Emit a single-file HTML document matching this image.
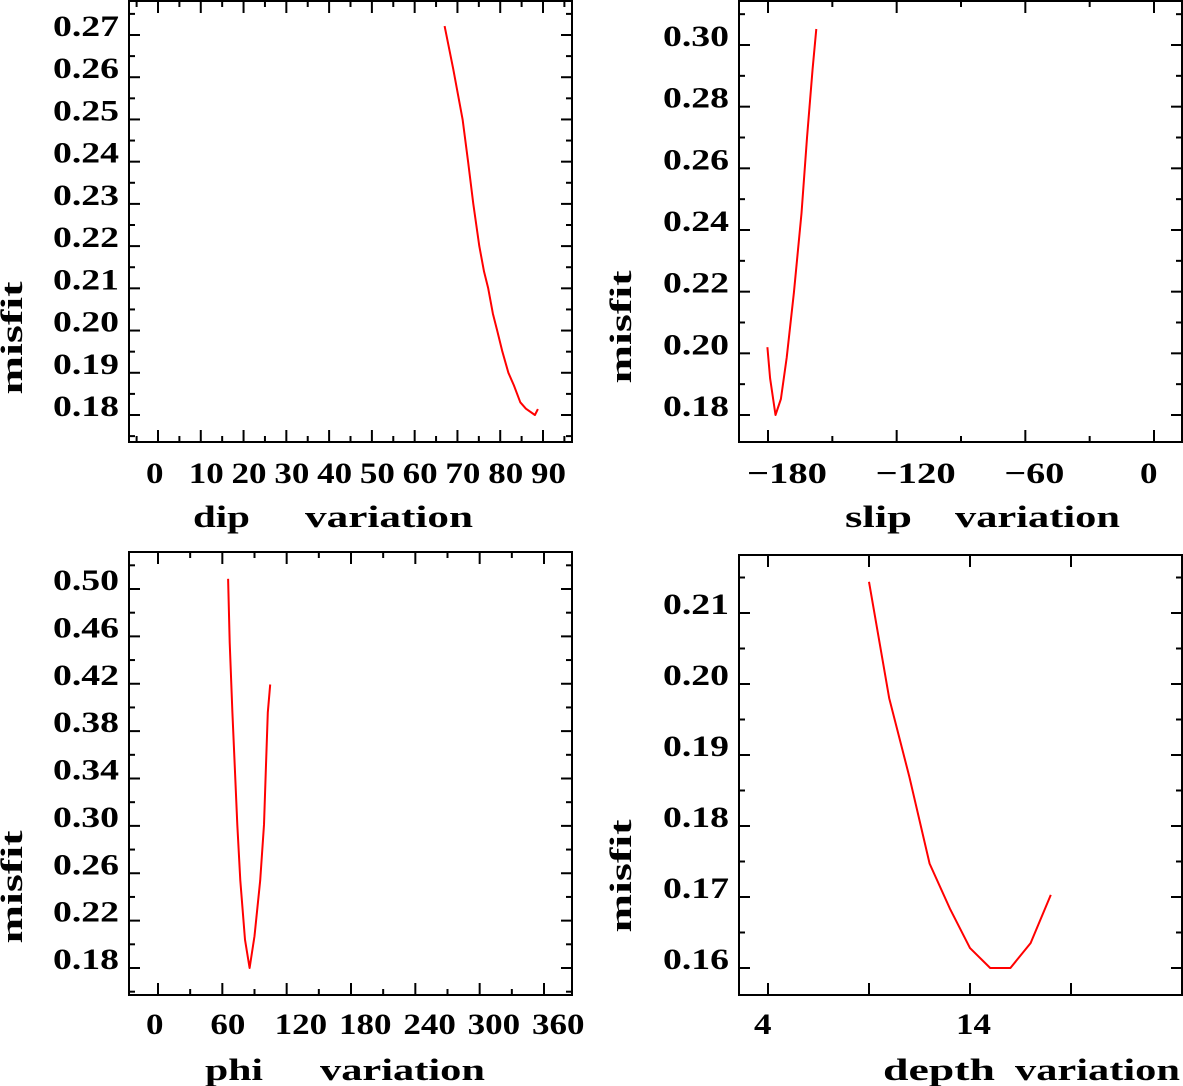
<!DOCTYPE html>
<html><head><meta charset="utf-8"><style>
html,body{margin:0;padding:0;background:#fff;}
svg{display:block;}
text{font-family:"Liberation Serif",serif;fill:#000;}
</style></head><body>
<svg id="chart" width="1183" height="1086" viewBox="0 0 1183 1086" xmlns="http://www.w3.org/2000/svg"></svg>
<script>
// ---- data ----
const dipX = [67, 69, 71.2, 72.5, 73.7, 75.1, 76.2, 77.2, 78.3, 79.3, 80.5, 81.9, 83.2, 84.7, 86, 88.1, 88.8];
const dipY = [0.2721, 0.2620, 0.2500, 0.2400, 0.2300, 0.2200, 0.2140, 0.2100, 0.2040, 0.2000, 0.1950, 0.1900, 0.1870, 0.1830, 0.1815, 0.1800, 0.1814];
const dipYTicks = [0.18, 0.19, 0.20, 0.21, 0.22, 0.23, 0.24, 0.25, 0.26, 0.27];
const dipYLabels = ["0.18","0.19","0.20","0.21","0.22","0.23","0.24","0.25","0.26","0.27"];
const dipXTicks = [0,10,20,30,40,50,60,70,80,90];
const dipXLabels = ["0","10","20","30","40","50","60","70","80","90"];

const slipX = [-180.3, -179, -176.5, -174, -171.3, -167.9, -164.4, -161.8, -159.2, -157.5];
const slipY = [0.202, 0.1919, 0.180, 0.1852, 0.1986, 0.2197, 0.2454, 0.2699, 0.2922, 0.3052];
const slipYTicks = [0.18, 0.20, 0.22, 0.24, 0.26, 0.28, 0.30];
const slipYLabels = ["0.18","0.20","0.22","0.24","0.26","0.28","0.30"];
const slipXTicks = [-180, -120, -60, 0];
const slipXLabels = ["\u2212180","\u2212120","\u221260","0"];

const phiX = [65.4, 66.9, 69.4, 71.5, 74, 76.8, 81.1, 85.4, 90, 95.3, 98.9, 100.7, 102.4, 104.6];
const phiY = [0.5086, 0.4548, 0.3957, 0.3515, 0.301, 0.254, 0.2039, 0.180, 0.2069, 0.254, 0.301, 0.3515, 0.3957, 0.4194];
const phiYTicks = [0.18, 0.22, 0.26, 0.30, 0.34, 0.38, 0.42, 0.46, 0.50];
const phiYLabels = ["0.18","0.22","0.26","0.30","0.34","0.38","0.42","0.46","0.50"];
const phiXTicks = [0,60,120,180,240,300,360];
const phiXLabels = ["0","60","120","180","240","300","360"];

const depthX = [9, 10, 11, 12, 13, 14, 15, 16, 17, 18];
const depthY = [0.2144, 0.198, 0.1869, 0.1747, 0.1684, 0.1628, 0.160, 0.160, 0.1635, 0.1703];
const depthYTicks = [0.16, 0.17, 0.18, 0.19, 0.20, 0.21];
const depthYLabels = ["0.16","0.17","0.18","0.19","0.20","0.21"];
const depthXTicks = [4, 14];
const depthXLabels = ["4","14"];
const depthXMajor = [4, 9, 14, 19];

const NS = "http://www.w3.org/2000/svg";
const svg = document.getElementById('chart');
function mk(tag, attrs, parent){ const e=document.createElementNS(NS,tag); for(const k in attrs) e.setAttribute(k,attrs[k]); (parent||svg).appendChild(e); return e; }

function panel(p){
  const g = mk('g',{});
  
  
  const sx = v => p.xa + (v - p.xva)*(p.xb - p.xa)/(p.xvb - p.xva);
  const sy = v => p.ya + (v - p.yva)*(p.yb - p.ya)/(p.yvb - p.yva);
  const frame = mk('rect',{x:p.L,y:p.T,width:p.R-p.L,height:p.B-p.T,fill:'none',stroke:'#000','stroke-width':2},g);
  
  
  const dy = p.yTicks[1]-p.yTicks[0];
  for(let i=0;i<p.yTicks.length;i++){
    const v=p.yTicks[i], y=sy(v);
    mk('line',{x1:p.L,y1:y,x2:p.L+11,y2:y,stroke:'#000','stroke-width':2},g);
    mk('line',{x1:p.R,y1:y,x2:p.R-11,y2:y,stroke:'#000','stroke-width':2},g);
    const t = mk('text',{x:p.L-10,y:y+1,'text-anchor':'end','font-size':30,'font-weight':'bold',textLength:p.yLabels[i].length*16.5,lengthAdjust:'spacingAndGlyphs'},g);
    t.textContent=p.yLabels[i];
    
    
  }
  for(let v=p.yTicks[0]-dy/2; v<p.yTicks[p.yTicks.length-1]+dy; v+=dy){
    const y=sy(v); if(y<p.T+2||y>p.B-2) continue;
    mk('line',{x1:p.L,y1:y,x2:p.L+6,y2:y,stroke:'#000','stroke-width':2},g);
    mk('line',{x1:p.R,y1:y,x2:p.R-6,y2:y,stroke:'#000','stroke-width':2},g);
  }
  const major = p.xMajor || p.xTicks;
  const dx = major[1]-major[0];
  for(const v of major){
    const x=sx(v);
    mk('line',{x1:x,y1:p.B,x2:x,y2:p.B-12,stroke:'#000','stroke-width':2},g);
    mk('line',{x1:x,y1:p.T,x2:x,y2:p.T+12,stroke:'#000','stroke-width':2},g);
  }
  if(p.minor){
    for(let v=major[0]-dx/2; v<major[major.length-1]+dx; v+=dx){
      const x=sx(v); if(x<p.L+3||x>p.R-3) continue;
      mk('line',{x1:x,y1:p.B,x2:x,y2:p.B-6,stroke:'#000','stroke-width':2},g);
      mk('line',{x1:x,y1:p.T,x2:x,y2:p.T+6,stroke:'#000','stroke-width':2},g);
    }
  }
  for(let i=0;i<p.xTicks.length;i++){
    const s=p.xLabels[i];
    const neg = s[0]=='\u2212';
    const off = neg ? -21 : (p.xOff!==undefined ? p.xOff : -12);
    const t = mk('text',{x:sx(p.xTicks[i])+off,y:p.xlabY,'text-anchor':'start','font-size':30,'font-weight':'bold',textLength:neg ? (s.length*20) : s.length*17.5,lengthAdjust:'spacingAndGlyphs'},g);
    t.textContent=s;
    
    
  }
  for(const w of p.titles){
    const t = mk('text',{x:w[1],y:p.titleY,'font-size':31,'font-weight':'bold',textLength:w[2]-w[1],lengthAdjust:'spacingAndGlyphs'},g);
    t.textContent=w[0];
    
    
  }
  const yt = mk('text',{x:0,y:0,'font-size':31,'font-weight':'bold','text-anchor':'middle',textLength:113,lengthAdjust:'spacingAndGlyphs',transform:`translate(${p.misX},${p.misY}) rotate(-90)`},g);
  yt.textContent='misfit';
  
  
  const pts = p.X.map((v,i)=>sx(v).toFixed(1)+','+sy(p.Y[i]).toFixed(1)).join(' ');
  const line = mk('polyline',{points:pts,fill:'none',stroke:'#ff0000','stroke-width':2,'stroke-linejoin':'round'},g);
  
  
}

panel({name:'dip-panel',L:129,R:572,T:1,B:442,xa:158,xva:0,xb:543,xvb:90,ya:35,yva:0.27,yb:415,yvb:0.18,
  yTicks:dipYTicks,yLabels:dipYLabels,xTicks:dipXTicks,xLabels:dipXLabels,minor:true,xlabY:483,titleY:527,
  titles:[['dip',193,250],['variation',305,473]],misX:22,misY:338,X:dipX,Y:dipY});
panel({name:'slip-panel',L:739,R:1182,T:1,B:442,xa:768,xva:-180,xb:1154,xvb:0,ya:45,yva:0.30,yb:415,yvb:0.18,
  yTicks:slipYTicks,yLabels:slipYLabels,xTicks:slipXTicks,xLabels:slipXLabels,minor:true,xOff:-14,xlabY:483,titleY:527,
  titles:[['slip',845,912],['variation',955,1120]],misX:631,misY:327,X:slipX,Y:slipY});
panel({name:'phi-panel',L:129,R:572,T:552,B:995,xa:158,xva:0,xb:544,xvb:360,ya:589,yva:0.50,yb:968,yvb:0.18,
  yTicks:phiYTicks,yLabels:phiYLabels,xTicks:phiXTicks,xLabels:phiXLabels,minor:true,xlabY:1034,titleY:1080,
  titles:[['phi',205,263],['variation',320,485]],misX:22,misY:887,X:phiX,Y:phiY});
panel({name:'depth-panel',L:739,R:1182,T:555,B:995,xa:768,xva:4,xb:970,xvb:14,ya:613,yva:0.21,yb:968,yvb:0.16,
  yTicks:depthYTicks,yLabels:depthYLabels,xTicks:depthXTicks,xLabels:depthXLabels,xMajor:depthXMajor,minor:false,xOff:-14,xlabY:1034,titleY:1080,
  titles:[['depth',883,995],['variation',1015,1180]],misX:631,misY:876,X:depthX,Y:depthY});
</script>
</body></html>
